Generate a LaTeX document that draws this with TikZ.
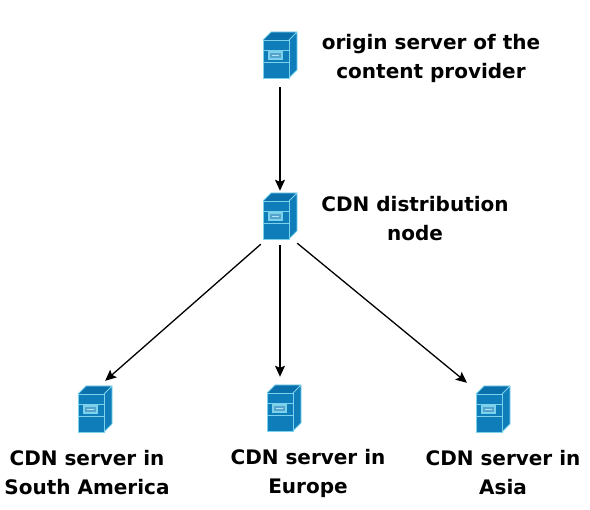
\documentclass[tikz,border=0pt]{standalone}
\usepackage{fontspec}
\setmainfont{DejaVu Sans}
\usetikzlibrary{arrows.meta, positioning}
\definecolor{cFront}{RGB}{14,125,185}
\definecolor{cTop}{RGB}{10,112,172}
\definecolor{cEdge}{RGB}{125,210,235}
\tikzset{
	srvbox/.style={rectangle, minimum width=34pt, minimum height=46pt, inner sep=0pt},
	srvlabel/.style={align=center, font=\bfseries\fontsize{20}{29}\selectfont, inner sep=0pt},
	link/.style={-{Stealth[length=11pt, width=10pt, inset=2pt]}, line width=1.3pt},
	serverbox/.pic={
		\fill[cFront] (-17,15) rectangle (9,-23);
		\fill[cTop] (-17,15) -- (-9,23) -- (17,23) -- (9,15) -- cycle;
		\fill[cFront] (9,15) -- (17,23) -- (17,-15) -- (9,-23) -- cycle;
		\draw[cEdge, line width=0.9pt] (-17,15) rectangle (9,-23);
		\draw[cEdge, line width=0.9pt] (-17,15) -- (-9,23) -- (17,23) -- (17,-15) -- (9,-23) (9,15) -- (17,23);
		\draw[cEdge, line width=0.9pt] (-17,5) -- (9,5) (-17,-7) -- (9,-7);
		\draw[cEdge, fill=cFront!70!white, line width=1.1pt] (-11,3) rectangle (2,-4);
		\draw[cEdge!60!white, line width=1pt] (-8,-0.5) -- (-1,-0.5);
		\node[srvbox] (-c) at (0,0) {};
	},
}

\begin{document}
\begin{tikzpicture}[x=1pt, y=-1pt]
	% y counted from the top of the picture, all in pixels
	\useasboundingbox (0,0) rectangle (590,510);
	\begin{scope}[y=1pt]
		\pic (origin) at (280,-55) {serverbox};
		\pic (dist) at (280,-216) {serverbox};
		\pic (south) at (95,-409) {serverbox};
		\pic (europe) at (284,-408) {serverbox};
		\pic (asia) at (493,-409) {serverbox};
	\end{scope}
	\node[srvlabel] (originlabel) at (431,58) {origin server of the\\content provider};
	\node[srvlabel] (distlabel) at (415,219) {CDN distribution\\node};
	\node[srvlabel] (southlabel) at (87,473) {CDN server in\\South America};
	\node[srvlabel] (europelabel) at (308,473) {CDN server in\\Europe};
	\node[srvlabel] (asialabel) at (503,473) {CDN server in\\Asia};
	\draw[link] ([yshift=-9pt]origin-c.south) -- ([yshift=2pt]dist-c.north);
	\draw[link] ([shift={(-2pt,-5pt)}]dist-c.south west) -- ([shift={(-7pt,5pt)}]south-c.north east);
	\draw[link] ([yshift=-6pt]dist-c.south) -- ([shift={(-4pt,8pt)}]europe-c.north);
	\draw[link] ([shift={(0pt,-4pt)}]dist-c.south east) -- ([shift={(-26pt,3pt)}]asia-c.north);
\end{tikzpicture}
\end{document}
